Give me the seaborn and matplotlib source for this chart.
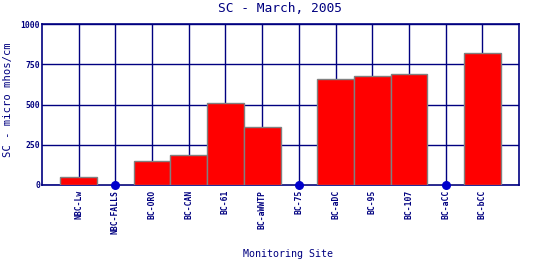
import matplotlib
matplotlib.use("Agg")
import matplotlib.pyplot as plt
import seaborn as sns
import pandas as pd
import numpy as np

sites = ["NBC-Lw", "NBC-FALLS", "BC-ORO", "BC-CAN", "BC-61", "BC-aWWTP",
         "BC-75", "BC-aDC", "BC-95", "BC-107", "BC-aCC", "BC-bCC"]
values = [48, 0, 150, 184, 507, 358, 0, 656, 675, 688, 0, 822]
y_ticks = [0, 250, 500, 750, 1000]

navy = "#000080"
sns.set_style("white")
plt.rcParams['font.family'] = ['DejaVu Sans Mono', 'DejaVu Sans']

df = pd.DataFrame({"site": sites, "value": values})

fig = plt.figure(figsize=(5.4, 2.6), dpi=100)
ax = fig.add_axes([42/540, 75/260, 477/540, 161/260])

sns.barplot(data=df, x="site", y="value", order=sites, color="red",
            width=1.0, edgecolor="#808080", linewidth=1.0, saturation=1,
            ax=ax, zorder=3)

zero = df[df["value"] == 0]
xpos = [sites.index(s) for s in zero["site"]]
ax.scatter(xpos, zero["value"], s=30, color="#0000CC", zorder=5, clip_on=False)

ax.set_xlim(-1, len(sites))
ax.set_ylim(0, 1000)
ax.set_yticks(y_ticks)
ax.set_yticklabels([str(t) for t in y_ticks], fontsize=5.8, fontweight="bold", color=navy)
ax.set_xticks(range(len(sites)))
ax.set_xticklabels(sites, rotation=90, fontsize=5.8, fontweight="bold", color=navy)
ax.tick_params(axis="x", length=0, pad=3.5)
ax.tick_params(axis="y", length=0, pad=1.5)

ax.grid(True, color=navy, linewidth=1.0, zorder=0)
ax.set_axisbelow(True)
for sp in ax.spines.values():
    sp.set_color(navy)
    sp.set_linewidth(1.2)
    sp.set_visible(True)

ax.set_xlabel("")
ax.set_ylabel("")
fig.text(288/540, 1 - 254/260, "Monitoring Site", ha="center", va="center", fontsize=7.2, color=navy)
fig.text(8/540, 1 - 100/260, "SC - micro mhos/cm", ha="center", va="center", rotation=90,
         fontsize=7.6, color=navy)
fig.text(280/540, 1 - 9/260, "SC - March, 2005", ha="center", va="center", fontsize=9.3, color=navy)

fig.savefig("out.png", dpi=100)
